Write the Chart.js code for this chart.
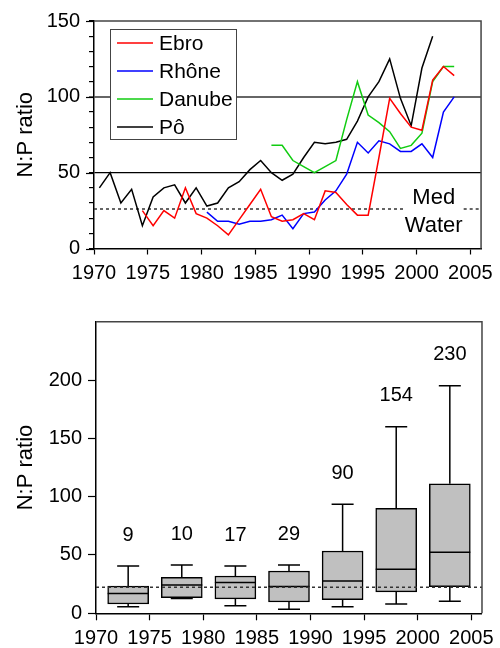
<!DOCTYPE html>
<html>
<head>
<meta charset="utf-8">
<script src="https://cdn.jsdelivr.net/npm/chart.js@4.4.1/dist/chart.umd.min.js"></script>
<style>
	html, body { margin: 0; padding: 0; background: #fff; }
	#topChart { position: absolute; left: 0; top: 0; }
	#boxChart { position: absolute; left: 0; top: 285px; }
</style>
</head>
<body>
<canvas id="topChart" width="500" height="285"></canvas>
<canvas id="boxChart" width="500" height="363"></canvas>
<script>
const FONT = '"Liberation Sans", Arial, Helvetica, sans-serif';

// annual N:P ratios, one value per year starting at the given year
const seriesNames = ['Ebro', 'Rhône', 'Danube', 'Pô'];
const seriesColors = ['#ff0000', '#0000ff', '#11cc11', '#000000'];
const seriesStart = [1974, 1980, 1986, 1970];
const ebro = [25, 15, 25, 20, 40, 23, 20, 15, 9, 19, 29, 39, 21, 18, 19, 23, 19, 38, 37, 29, 22, 22, 60, 99, 89, 80, 78, 111, 120, 114];
const rhone = [24, 18, 18, 16, 18, 18, 19, 22, 13, 23, 24, 32, 38, 49, 70, 63, 71, 69, 64, 64, 69, 60, 90, 100];
const danube = [68, 68, 58, 54, 50, 54, 58, 85, 110, 88, 83, 77, 66, 68, 76, 110, 120, 120];
const po = [40, 50, 30, 39, 15, 34, 40, 42, 30, 40, 28, 30, 40, 44, 52, 58, 50, 45, 49, 60, 70, 69, 70, 72, 84, 100, 110, 125, 99, 81, 119, 140];
const seriesValues = [ebro, rhone, danube, po];
const medWater = 26;

// box plots per five-year period
const boxYears = [1973, 1978, 1983, 1988, 1993, 1998, 2003];
const boxLow = [5.7, 12.6, 6.5, 3.4, 5.7, 8, 10.3];
const boxQ1 = [8, 13.4, 12.3, 9.7, 11.7, 18.3, 22.9];
const boxMedian = [17, 24.3, 26.3, 23, 27.7, 37.7, 52.3];
const boxQ3 = [23.4, 30.8, 32, 36.3, 53.4, 90, 111];
const boxHigh = [40.5, 41.4, 40.5, 41.4, 93.4, 160, 195];
const boxCount = [9, 10, 17, 29, 90, 154, 230];
const medWaterBox = 22.3;

Chart.defaults.font.family = FONT;
Chart.defaults.font.size = 20;
Chart.defaults.color = '#000';

function frame(ctx, a) {
	ctx.save();
	ctx.strokeStyle = '#444';
	ctx.lineWidth = 1.5;
	ctx.beginPath();
	ctx.moveTo(a.left, a.top);
	ctx.lineTo(a.right, a.top);
	ctx.lineTo(a.right, a.bottom);
	ctx.stroke();
	ctx.restore();
}

const topDecor = {
	id: 'topDecor',
	beforeDatasetsDraw(chart) {
		const {ctx, chartArea: a, scales: {x, y}} = chart;
		const yy = y.getPixelForValue(medWater);
		const tx = x.getPixelForValue(2001.6);
		ctx.save();
		ctx.font = '22px ' + FONT;
		const gap = ctx.measureText('Water').width / 2 + 1;
		ctx.strokeStyle = '#333';
		ctx.lineWidth = 1.5;
		ctx.setLineDash([3, 3]);
		ctx.beginPath();
		ctx.moveTo(a.left, yy);
		ctx.lineTo(tx - gap, yy);
		ctx.moveTo(tx + gap, yy);
		ctx.lineTo(a.right, yy);
		ctx.stroke();
		ctx.setLineDash([]);
		ctx.fillStyle = '#000';
		ctx.textAlign = 'center';
		ctx.textBaseline = 'middle';
		ctx.fillText('Med', tx, yy - 11);
		ctx.fillText('Water', tx, yy + 17);
		ctx.restore();
	},
	afterDatasetsDraw(chart) {
		// legend box inside the plot
		const {ctx, chartArea: a} = chart;
		const bx = a.left + 16, by = a.top + 8;
		ctx.save();
		ctx.fillStyle = '#fff';
		ctx.fillRect(bx, by, 126, 110);
		ctx.strokeStyle = '#444';
		ctx.lineWidth = 1;
		ctx.strokeRect(bx + 0.5, by + 0.5, 126, 110);
		ctx.font = '21px ' + FONT;
		ctx.textBaseline = 'middle';
		chart.data.datasets.forEach((ds, i) => {
			const ly = by + 14 + i * 28;
			ctx.strokeStyle = ds.borderColor;
			ctx.lineWidth = 1.5;
			ctx.beginPath();
			ctx.moveTo(bx + 7, ly);
			ctx.lineTo(bx + 43, ly);
			ctx.stroke();
			ctx.fillStyle = '#000';
			ctx.fillText(ds.label, bx + 49, ly + 1);
		});
		ctx.restore();
	},
	afterDraw(chart) {
		const {ctx, chartArea: a, scales: {y}} = chart;
		frame(ctx, a);
		// longer ticks at labelled values
		ctx.save();
		ctx.strokeStyle = '#000';
		ctx.lineWidth = 1.2;
		y.ticks.forEach(t => {
			if (t.value % 50 === 0) {
				const py = Math.round(y.getPixelForValue(t.value)) + 0.5;
				ctx.beginPath();
				ctx.moveTo(a.left - 8, py);
				ctx.lineTo(a.left, py);
				ctx.stroke();
			}
		});
		ctx.restore();
	}
};

const topChart = new Chart(document.getElementById('topChart'), {
	type: 'line',
	data: {
		datasets: seriesNames.map((name, i) => ({
			label: name,
			data: seriesValues[i].map((v, k) => ({x: seriesStart[i] + k + 0.5, y: v})),
			borderColor: seriesColors[i],
			borderWidth: 1.5,
			pointRadius: 0,
			tension: 0,
			fill: false
		}))
	},
	options: {
		responsive: false,
		animation: false,
		devicePixelRatio: 1,
		layout: {padding: {left: 0, right: 16, top: 20, bottom: 0}},
		plugins: {legend: {display: false}, tooltip: {enabled: false}},
		scales: {
			x: {
				type: 'linear',
				min: 1970,
				max: 2006,
				afterFit: s => { s.height = 36.5; },
				border: {color: '#000', width: 1.5},
				grid: {drawOnChartArea: false, tickLength: 6, tickColor: '#000', tickWidth: 1.2},
				ticks: {stepSize: 5, includeBounds: false, padding: 7, maxRotation: 0, autoSkip: false, callback: v => String(v)}
			},
			y: {
				min: 0,
				max: 150,
				afterFit: s => { s.width = 94; },
				border: {color: '#000', width: 1.5},
				grid: {
					color: c => c.tick && c.tick.value === 50 ? '#000' : (c.tick && c.tick.value === 100 ? '#666' : 'rgba(0,0,0,0)'),
					lineWidth: c => c.tick && c.tick.value === 100 ? 2 : 1.2,
					tickLength: 5,
					tickColor: '#000',
					tickWidth: 1.2
				},
				ticks: {
					stepSize: 10,
					padding: 9,
					autoSkip: false,
					callback: v => (v % 50 === 0 ? String(v) : '')
				},
				title: {display: true, text: 'N:P ratio', font: {size: 22}, padding: {top: 13, bottom: 0}}
			}
		}
	},
	plugins: [topDecor]
});

const boxDecor = {
	id: 'boxDecor',
	afterDatasetsDraw(chart) {
		const {ctx, chartArea: a, scales: {x, y}} = chart;
		ctx.save();
		ctx.strokeStyle = '#000';
		ctx.lineWidth = 1.5;
		boxYears.forEach((yr, i) => {
			const cx = x.getPixelForValue(yr);
			const cap = 11;
			const pLow = y.getPixelForValue(boxLow[i]);
			const pQ1 = y.getPixelForValue(boxQ1[i]);
			const pMed = y.getPixelForValue(boxMedian[i]);
			const pQ3 = y.getPixelForValue(boxQ3[i]);
			const pHigh = y.getPixelForValue(boxHigh[i]);
			ctx.beginPath();
			ctx.moveTo(cx, pQ3); ctx.lineTo(cx, pHigh);
			ctx.moveTo(cx - cap, pHigh); ctx.lineTo(cx + cap, pHigh);
			ctx.moveTo(cx, pQ1); ctx.lineTo(cx, pLow);
			ctx.moveTo(cx - cap, pLow); ctx.lineTo(cx + cap, pLow);
			ctx.moveTo(cx - 20.5, pMed); ctx.lineTo(cx + 20.5, pMed);
			ctx.stroke();
			ctx.fillStyle = '#000';
			ctx.font = '20px ' + FONT;
			ctx.textAlign = 'center';
			ctx.textBaseline = 'middle';
			ctx.fillText(String(boxCount[i]), cx, pHigh - 31);
		});
		// med water reference
		const yy = y.getPixelForValue(medWaterBox);
		ctx.strokeStyle = '#333';
		ctx.setLineDash([3, 3]);
		ctx.beginPath();
		ctx.moveTo(a.left, yy);
		ctx.lineTo(a.right, yy);
		ctx.stroke();
		ctx.restore();
	},
	afterDraw(chart) {
		frame(chart.ctx, chart.chartArea);
	}
};

const boxChart = new Chart(document.getElementById('boxChart'), {
	type: 'bar',
	data: {
		datasets: [{
			label: 'N:P',
			data: boxYears.map((yr, i) => ({x: yr, y: [boxQ1[i], boxQ3[i]]})),
			backgroundColor: '#c0c0c0',
			borderColor: '#000',
			borderWidth: 1.5,
			borderSkipped: false,
			barThickness: 41
		}]
	},
	options: {
		responsive: false,
		animation: false,
		devicePixelRatio: 1,
		layout: {padding: {left: 0, right: 17.5, top: 36.7, bottom: 0}},
		plugins: {legend: {display: false}, tooltip: {enabled: false}},
		scales: {
			x: {
				type: 'linear',
				min: 1970,
				max: 2006,
				offset: false,
				afterFit: s => { s.height = 34.7; },
				border: {color: '#000', width: 1.5},
				grid: {drawOnChartArea: false, tickLength: 7, tickColor: '#000', tickWidth: 1.2, offset: false},
				ticks: {stepSize: 5, includeBounds: false, padding: 6, maxRotation: 0, autoSkip: false, callback: v => String(v)}
			},
			y: {
				min: 0,
				max: 250,
				afterFit: s => { s.width = 96; },
				border: {color: '#000', width: 1.5},
				grid: {
					drawOnChartArea: false,
					tickLength: 8,
					tickColor: c => c.tick && c.tick.value === 250 ? 'rgba(0,0,0,0)' : '#000',
					tickWidth: 1.2
				},
				ticks: {
					stepSize: 50,
					padding: 6,
					autoSkip: false,
					callback: v => (v === 250 ? '' : String(v))
				},
				title: {display: true, text: 'N:P ratio', font: {size: 22}, padding: {top: 13, bottom: 0}}
			}
		}
	},
	plugins: [boxDecor]
});
</script>
</body>
</html>
